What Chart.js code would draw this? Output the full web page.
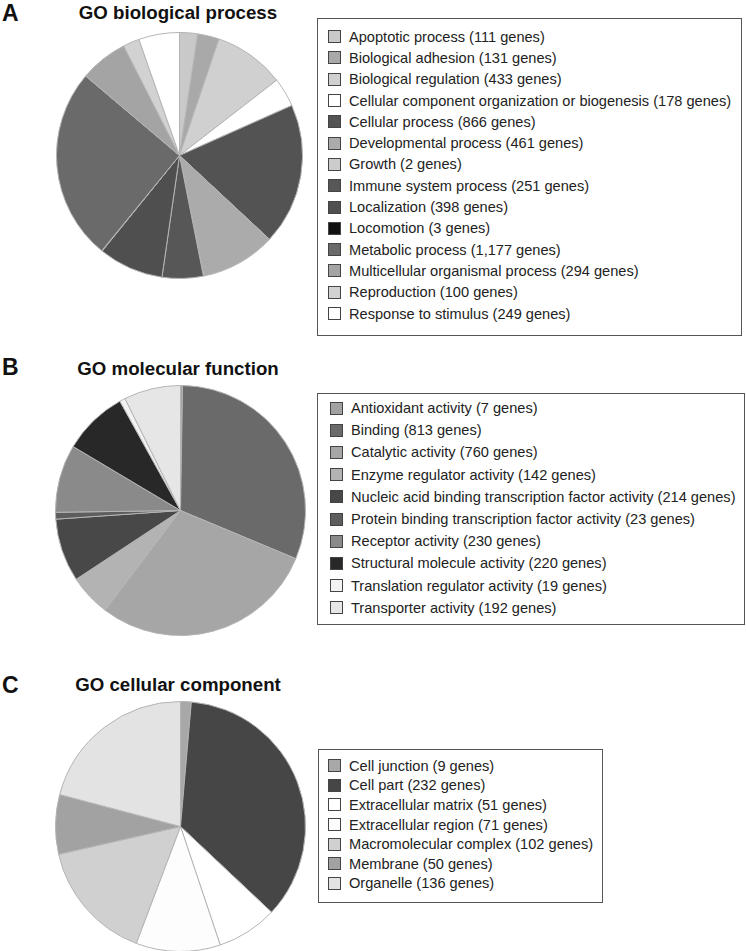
<!DOCTYPE html>
<html>
<head>
<meta charset="utf-8">
<script src="https://cdn.jsdelivr.net/npm/chart.js@4"></script>
<style>
  body { margin: 0; background: #fff; font-family: "Liberation Sans", Arial, sans-serif; }
  #page { position: relative; width: 746px; height: 951px; overflow: hidden; }
  .letter { position: absolute; left: 2px; font-weight: bold; font-size: 23px; color: #111; line-height: 24px; }
  .title { position: absolute; width: 300px; left: 28px; text-align: center; font-weight: bold; font-size: 18.7px; color: #111; line-height: 22px; }
  canvas { position: absolute; }
  .legend { position: absolute; border: 1px solid #555; box-sizing: border-box; color: #222; font-size: 14.6px; }
  .row { display: flex; align-items: center; white-space: nowrap; }
  .sw { width: 13px; height: 13px; box-sizing: border-box; border: 1px solid #444; margin-right: 8px; flex: none; }
</style>
</head>
<body>
<div id="page">
  <div class="letter" style="top:1px">A</div>
  <div class="title" style="top:2px">GO biological process</div>
  <canvas id="pie-bp" width="247" height="247" style="left:56px;top:32px"></canvas>
  <div class="legend" id="leg-bp" style="left:317px;top:18px;width:425px;height:318px;padding:7px 0 0 10px"></div>

  <div class="letter" style="top:355px">B</div>
  <div class="title" style="top:358px">GO molecular function</div>
  <canvas id="pie-mf" width="251" height="251" style="left:55px;top:385px"></canvas>
  <div class="legend" id="leg-mf" style="left:317px;top:393px;width:428px;height:232px;padding:3px 0 0 12px"></div>

  <div class="letter" style="top:673px">C</div>
  <div class="title" style="top:674px">GO cellular component</div>
  <canvas id="pie-cc" width="251" height="251" style="left:55px;top:701px"></canvas>
  <div class="legend" id="leg-cc" style="left:318px;top:749px;width:285px;height:154px;padding:6px 0 0 9px"></div>
</div>
<script>
// GO biological process
const bpLabels = ['Apoptotic process', 'Biological adhesion', 'Biological regulation',
    'Cellular component organization or biogenesis', 'Cellular process', 'Developmental process',
    'Growth', 'Immune system process', 'Localization', 'Locomotion', 'Metabolic process',
    'Multicellular organismal process', 'Reproduction', 'Response to stimulus'];
const bpGenes = [111, 131, 433, 178, 866, 461, 2, 251, 398, 3, 1177, 294, 100, 249];
const bpColors = ['#c9c9c9', '#a9a9a9', '#d0d0d0', '#ffffff', '#535353', '#ababab', '#cccccc',
    '#575757', '#4f4f4f', '#111111', '#6a6a6a', '#a4a4a4', '#d2d2d2', '#ffffff'];

// GO molecular function
const mfLabels = ['Antioxidant activity', 'Binding', 'Catalytic activity', 'Enzyme regulator activity',
    'Nucleic acid binding transcription factor activity', 'Protein binding transcription factor activity',
    'Receptor activity', 'Structural molecule activity', 'Translation regulator activity', 'Transporter activity'];
const mfGenes = [7, 813, 760, 142, 214, 23, 230, 220, 19, 192];
const mfColors = ['#a2a2a2', '#6a6a6a', '#a6a6a6', '#b3b3b3', '#484848', '#5e5e5e', '#8a8a8a',
    '#282828', '#f2f2f2', '#e6e6e6'];

// GO cellular component
const ccLabels = ['Cell junction', 'Cell part', 'Extracellular matrix', 'Extracellular region',
    'Macromolecular complex', 'Membrane', 'Organelle'];
const ccGenes = [9, 232, 51, 71, 102, 50, 136];
const ccColors = ['#a8a8a8', '#464646', '#ffffff', '#fdfdfd', '#d0d0d0', '#a2a2a2', '#e3e3e3'];

function fmt(n) {
    return n.toLocaleString('en-US');
}

function renderPie(canvasId, labels, values, colors) {
    new Chart(document.getElementById(canvasId), {
        type: 'pie',
        data: {
            labels,
            datasets: [{
                data: values,
                backgroundColor: colors,
                borderColor: '#b4b4b4',
                borderWidth: 1
            }]
        },
        options: {
            responsive: false,
            animation: false,
            layout: { padding: 0 },
            plugins: { legend: { display: false }, tooltip: { enabled: false } }
        }
    });
}

function renderLegend(boxId, labels, values, colors, rowH) {
    const box = document.getElementById(boxId);
    labels.forEach((l, i) => {
        const row = document.createElement('div');
        row.className = 'row';
        row.style.height = rowH + 'px';
        const sw = document.createElement('span');
        sw.className = 'sw';
        sw.style.background = colors[i];
        const txt = document.createElement('span');
        txt.textContent = `${l} (${fmt(values[i])} genes)`;
        row.appendChild(sw);
        row.appendChild(txt);
        box.appendChild(row);
    });
}

renderPie('pie-bp', bpLabels, bpGenes, bpColors);
renderPie('pie-mf', mfLabels, mfGenes, mfColors);
renderPie('pie-cc', ccLabels, ccGenes, ccColors);

renderLegend('leg-bp', bpLabels, bpGenes, bpColors, 21.3);
renderLegend('leg-mf', mfLabels, mfGenes, mfColors, 22.2);
renderLegend('leg-cc', ccLabels, ccGenes, ccColors, 19.6);
</script>
</body>
</html>
